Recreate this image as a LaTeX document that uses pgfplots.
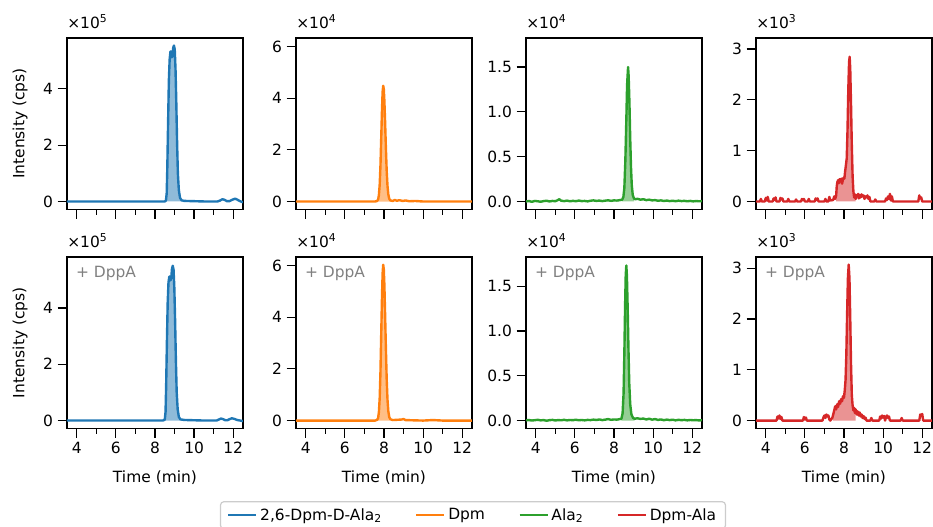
\documentclass[border=0pt]{standalone}
\usepackage{fontspec}
\setmainfont{DejaVu Sans}
\usepackage{pgfplots}
\usepackage{pgfplotstable}
\pgfplotsset{compat=1.18}
\definecolor{c1}{HTML}{1F77B4}
\definecolor{c2}{HTML}{FF7F0E}
\definecolor{c3}{HTML}{2CA02C}
\definecolor{c4}{HTML}{D62728}
\newcommand\myfont{\fontsize{11.6}{13.9}\selectfont}

% Row 1 (units of 1e5)
\pgfplotstableread{
x y
3.5 0
8.50 0
8.56 0.03
8.60 0.3
8.63 1.2
8.67 2.8
8.71 4.3
8.75 5.05
8.79 5.32
8.82 5.33
8.85 5.12
8.89 5.15
8.93 5.45
8.97 5.54
9.01 5.40
9.05 4.7
9.09 3.5
9.13 2.1
9.17 1.0
9.22 0.4
9.28 0.13
9.36 0.04
9.5 0.02
10.0 0.01
10.5 0
11.2 0
11.32 0.03
11.45 0.08
11.55 0.06
11.68 0.01
11.8 0.01
11.95 0.06
12.1 0.1
12.22 0.06
12.35 0.01
12.5 -0.03
}\Aone
\pgfplotstableread{
x y
3.5 0
8.40 0
8.50 0.03
8.54 0.3
8.57 1.2
8.61 2.8
8.65 4.2
8.69 4.9
8.73 5.1
8.76 5.12
8.79 4.98
8.83 5.05
8.87 5.40
8.91 5.50
8.95 5.35
8.99 4.7
9.03 3.5
9.07 2.1
9.11 1.0
9.16 0.4
9.22 0.13
9.30 0.04
9.5 0.02
10 0.01
10.5 0
11.15 0
11.25 0.03
11.37 0.07
11.48 0.05
11.6 0.01
11.7 0.01
11.82 0.05
11.93 0.08
12.05 0.06
12.2 0.02
12.35 0.0
12.5 -0.02
}\Atwo
% Dpm (units of 1e4)
\pgfplotstableread{
x y
3.5 0
7.55 0
7.65 0.02
7.70 0.08
7.74 0.25
7.78 0.65
7.82 1.4
7.86 2.5
7.90 3.6
7.93 4.25
7.96 4.48
7.99 4.35
8.02 3.9
8.06 3.0
8.10 2.0
8.14 1.15
8.18 0.6
8.22 0.28
8.27 0.1
8.33 0.04
8.45 0.02
8.55 0.06
8.65 0.03
8.8 0.05
8.95 0.02
9.1 0.04
9.3 0.01
9.6 0.02
10 0
12.5 0
}\Bone
\pgfplotstableread{
x y
3.5 0
7.55 0
7.65 0.03
7.70 0.1
7.74 0.33
7.78 0.87
7.82 1.9
7.86 3.4
7.90 4.85
7.93 5.7
7.96 6.03
7.99 5.85
8.02 5.25
8.06 4.0
8.10 2.7
8.14 1.55
8.18 0.8
8.22 0.37
8.27 0.13
8.33 0.05
8.45 0.02
8.9 0.04
9.0 0.06
9.1 0.02
9.5 0.01
10 0
10.5 0.02
11 0
12.5 0
}\Btwo
% Ala2 (units of 1e4)
\pgfplotstableread{
x y
3.5 0.000
3.65 0.005
3.8 -0.004
3.95 0.006
4.1 0.002
4.25 -0.003
4.4 0.004
4.55 0.008
4.7 0.000
4.85 0.006
5.0 0.003
5.1 0.012
5.2 0.025
5.3 0.008
5.45 0.004
5.6 0.009
5.75 0.002
5.9 0.007
6.05 0.003
6.2 0.010
6.35 0.004
6.5 0.006
6.65 0.001
6.8 0.008
6.95 0.012
7.1 0.006
7.25 0.010
7.4 0.004
7.55 0.009
7.7 0.013
7.85 0.007
8.0 0.012
8.15 0.010
8.3 0.015
8.42 0.02
8.48 0.05
8.53 0.15
8.58 0.45
8.63 0.9
8.67 1.3
8.72 1.50
8.75 1.40
8.79 1.1
8.83 0.7
8.87 0.38
8.91 0.18
8.96 0.07
9.03 0.03
9.1 0.025
9.2 0.03
9.35 0.02
9.5 0.025
9.65 0.015
9.8 0.02
9.95 0.012
10.1 0.015
10.25 0.008
10.4 0.012
10.55 0.005
10.7 0.01
10.85 0.004
11.0 0.008
11.15 0.003
11.3 0.009
11.45 0.004
11.6 0.007
11.75 0.002
11.9 0.006
12.05 0.001
12.2 0.005
12.35 0.002
12.5 0.004
}\Cone
\pgfplotstableread{
x y
3.5 0.002
3.65 0.006
3.8 0.000
3.95 0.004
4.1 0.008
4.25 0.002
4.4 0.005
4.55 -0.002
4.7 0.004
4.85 0.007
5.0 0.001
5.15 0.005
5.3 0.003
5.45 0.008
5.6 0.002
5.75 0.006
5.9 0.004
6.05 0.009
6.2 0.003
6.35 0.006
6.5 0.002
6.65 0.007
6.8 0.005
6.95 0.010
7.1 0.006
7.25 0.012
7.4 0.005
7.55 0.010
7.7 0.016
7.85 0.008
8.0 0.012
8.15 0.010
8.3 0.016
8.38 0.02
8.44 0.08
8.49 0.3
8.53 0.75
8.57 1.3
8.60 1.62
8.63 1.73
8.66 1.62
8.70 1.25
8.74 0.8
8.78 0.42
8.83 0.18
8.89 0.07
8.97 0.03
9.05 0.02
9.2 0.025
9.35 0.018
9.5 0.022
9.65 0.012
9.8 0.02
9.95 0.01
10.1 0.016
10.25 0.007
10.4 0.012
10.55 0.004
10.7 0.01
10.85 0.005
11.0 0.009
11.15 0.002
11.3 0.008
11.45 0.004
11.6 0.007
11.75 0.002
11.9 0.006
12.05 0.003
12.2 0.005
12.35 0.001
12.5 0.004
}\Ctwo
% Dpm-Ala (units of 1e3)
\pgfplotstableread{
x y
3.5 0
3.7 0
3.75 0.05
3.8 0
3.95 0
4.0 0.07
4.05 0.02
4.1 0.09
4.15 0
4.35 0
4.4 0.06
4.45 0.03
4.5 0.08
4.55 0
4.7 0
4.75 0.07
4.8 0.04
4.85 0.06
4.9 0
5.1 0
5.15 0.05
5.2 0
5.5 0
5.55 0.04
5.6 0
5.8 0
5.85 0.05
5.9 0.03
5.95 0.05
6.0 0
6.15 0
6.2 0.05
6.25 0
6.5 0
6.55 0.06
6.6 0.03
6.65 0.06
6.7 0
7.0 0
7.05 0.05
7.1 0
7.2 0
7.25 0.09
7.3 0.02
7.45 0.03
7.5 0.1
7.55 0.05
7.6 0.12
7.63 0.3
7.66 0.38
7.7 0.42
7.74 0.36
7.78 0.44
7.82 0.40
7.86 0.45
7.9 0.35
7.94 0.42
7.98 0.47
8.02 0.45
8.06 0.6
8.10 0.72
8.14 0.85
8.18 1.4
8.22 2.2
8.26 2.75
8.29 2.85
8.32 2.6
8.36 1.9
8.40 1.1
8.44 0.5
8.48 0.2
8.52 0.08
8.56 0.14
8.6 0.05
8.64 0.12
8.68 0.1
8.72 0.15
8.76 0.06
8.8 0.13
8.85 0.08
8.9 0.14
8.95 0.1
9.0 0.12
9.05 0.05
9.1 0.1
9.15 0.08
9.2 0.12
9.25 0.05
9.3 0.09
9.35 0
9.55 0
9.6 0.04
9.65 0
10.1 0
10.15 0.06
10.2 0.03
10.25 0.1
10.3 0.05
10.35 0.15
10.4 0.02
10.45 0.1
10.5 0
11.8 0
11.85 0.12
11.9 0.06
11.95 0.08
12.0 0
12.5 0
}\Done
\pgfplotstableread{
x y
3.5 0
4.55 0
4.6 0.08
4.65 0.04
4.7 0.1
4.75 0.03
4.8 0.07
4.85 0
5.9 0
5.95 0.07
6.0 0.02
6.05 0.06
6.1 0
6.9 0
6.95 0.06
7.0 0.1
7.05 0.05
7.1 0.12
7.15 0.08
7.2 0.1
7.25 0.02
7.3 0
7.4 0.05
7.45 0.12
7.5 0.2
7.55 0.28
7.6 0.22
7.65 0.32
7.7 0.27
7.75 0.38
7.8 0.33
7.85 0.42
7.9 0.38
7.95 0.48
8.0 0.45
8.04 0.6
8.08 0.8
8.12 1.3
8.16 2.1
8.2 2.8
8.24 3.07
8.28 2.8
8.32 2.0
8.36 1.1
8.40 0.5
8.44 0.3
8.48 0.2
8.52 0.25
8.56 0.15
8.6 0.22
8.65 0.12
8.7 0.18
8.75 0.1
8.8 0.16
8.85 0.08
8.9 0.12
8.95 0.05
9.0 0.09
9.05 0.03
9.1 0.06
9.15 0
9.35 0
9.4 0.05
9.45 0
9.8 0
9.85 0.08
9.9 0.04
9.95 0.1
10.0 0.06
10.05 0.09
10.1 0
10.15 0.07
10.2 0.1
10.25 0.05
10.3 0.08
10.35 0
10.9 0
10.95 0.05
11.0 0
11.85 0
11.9 0.12
11.95 0.1
12.0 0.13
12.05 0
12.5 0
}\Dtwo

\pgfplotsset{
  panel/.style={
    scale only axis, width=132pt, height=128.5pt,
    anchor=south west,
    xmin=3.5, xmax=12.5,
    xtick={4,6,8,10,12}, minor xtick={5,7,9,11},
    tick align=outside, tick pos=left,
    major tick length=7pt, minor tick length=4.2pt,
    every tick/.style={black, line width=0.9pt},
    axis line style={line width=0.9pt},
    tick label style={font=\myfont},
    label style={font=\myfont},
    /pgf/number format/assume math mode=true,
    clip mode=individual,
  },
  toprow/.style={xticklabels={}},
  botrow/.style={xlabel={Time (min)}, xlabel style={at={(axis description cs:0.5,-0.29)}, anchor=center}},
  col1/.style={ymin=-0.277, ymax=5.81, ytick={0,2,4},
     ylabel={Intensity (cps)}, ylabel style={at={(axis description cs:-0.267,0.5)}, anchor=center, rotate=0}},
  col2/.style={ymin=-0.30, ymax=6.33, ytick={0,2,4,6}},
  col3/.style={ymin=-0.087, ymax=1.825, ytick={0,0.5,1,1.5},
     yticklabel style={/pgf/number format/fixed, /pgf/number format/fixed zerofill, /pgf/number format/precision=1}},
  col4/.style={ymin=-0.153, ymax=3.22, ytick={0,1,2,3}},
  ln/.style={#1, line width=1.8pt, line join=round, mark=none},
  fl/.style={draw=none, fill=#1, fill opacity=0.5, mark=none},
}
\newcommand\scl[1]{\node[anchor=base west, inner sep=0pt, yshift=7.3pt, font=\myfont] at (rel axis cs:0,1) {×10\textsuperscript{#1}};}
\newcommand\dppa{\node[anchor=north west, inner sep=0pt, text=black!50, font=\myfont] at (rel axis cs:0.05,0.95) {+ DppA};}

\begin{document}
\begin{tikzpicture}
\path[use as bounding box] (0,0) rectangle (699.75pt,395.25pt);
% ---- row 1 ----
\begin{axis}[panel, toprow, col1, at={(50.25pt,238.3pt)}]
\addplot[fl=c1, restrict x to domain=8.5:9.4] table {\Aone} \closedcycle;
\addplot[ln=c1] table {\Aone};
\scl{5}
\end{axis}
\begin{axis}[panel, toprow, col2, at={(222pt,238.3pt)}]
\addplot[fl=c2, restrict x to domain=7.6:8.4] table {\Bone} \closedcycle;
\addplot[ln=c2] table {\Bone};
\scl{4}
\end{axis}
\begin{axis}[panel, toprow, col3, at={(394.5pt,238.3pt)}]
\addplot[fl=c3, restrict x to domain=8.42:9.05] table {\Cone} \closedcycle;
\addplot[ln=c3] table {\Cone};
\scl{4}
\end{axis}
\begin{axis}[panel, toprow, col4, at={(567pt,238.3pt)}]
\addplot[fl=c4, restrict x to domain=7.6:8.6] table {\Done} \closedcycle;
\addplot[ln=c4] table {\Done};
\scl{3}
\end{axis}
% ---- row 2 ----
\begin{axis}[panel, botrow, col1, at={(50.25pt,74pt)},
  legend columns=4,
  legend style={at={(2.307,-0.425)}, anchor=north, draw=black!20, rounded corners=2.5pt,
    line width=0.9pt, font=\myfont, inner xsep=5pt, inner ysep=3pt,
    /tikz/every even column/.append style={column sep=23pt}},
  legend image code/.code={\draw[#1, line width=1.8pt] (0pt,0pt) -- (21pt,0pt);}]
\addlegendimage{c1}\addlegendentry{2,6-Dpm-D-Ala\textsubscript{2}}
\addlegendimage{c2}\addlegendentry{Dpm}
\addlegendimage{c3}\addlegendentry{Ala\textsubscript{2}}
\addlegendimage{c4}\addlegendentry{Dpm-Ala}
\addplot[fl=c1, restrict x to domain=8.45:9.35, forget plot] table {\Atwo} \closedcycle;
\addplot[ln=c1, forget plot] table {\Atwo};
\scl{5}\dppa
\end{axis}
\begin{axis}[panel, botrow, col2, at={(222pt,74pt)}]
\addplot[fl=c2, restrict x to domain=7.6:8.4] table {\Btwo} \closedcycle;
\addplot[ln=c2] table {\Btwo};
\scl{4}\dppa
\end{axis}
\begin{axis}[panel, botrow, col3, at={(394.5pt,74pt)}]
\addplot[fl=c3, restrict x to domain=8.36:9.05] table {\Ctwo} \closedcycle;
\addplot[ln=c3] table {\Ctwo};
\scl{4}\dppa
\end{axis}
\begin{axis}[panel, botrow, col4, at={(567pt,74pt)}]
\addplot[fl=c4, restrict x to domain=7.45:8.6] table {\Dtwo} \closedcycle;
\addplot[ln=c4] table {\Dtwo};
\scl{3}\dppa
\end{axis}
\end{tikzpicture}
\end{document}
